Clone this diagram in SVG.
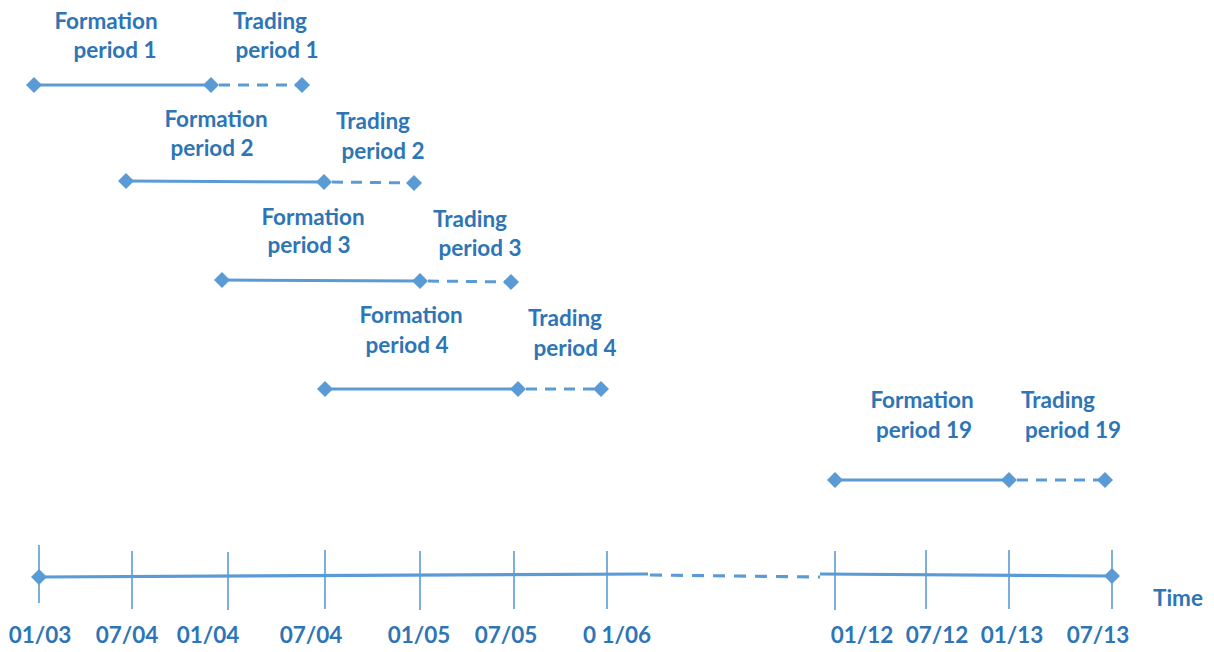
<svg xmlns="http://www.w3.org/2000/svg" width="1214" height="652" viewBox="0 0 1214 652">
  <defs>
    <style>
      .lbl { font-family: Lato, "Liberation Sans", sans-serif; font-weight: bold; font-size: 22.5px; fill: #2e75b6; text-anchor: middle; }
      .solid { stroke: #5b9bd5; stroke-width: 3; fill: none; }
      .dash { stroke: #5b9bd5; stroke-width: 3; fill: none; stroke-dasharray: 11 8; }
      .axis { stroke: #5b9bd5; stroke-width: 3.2; fill: none; }
      .axisdash { stroke: #5b9bd5; stroke-width: 3.2; fill: none; stroke-dasharray: 12 9; }
      .tick { stroke: #5b9bd5; stroke-width: 1.6; }
      .dot { fill: #5b9bd5; }
    </style>
    <path id="dm" d="M0,-8 L8,0 L0,8 L-8,0 Z"/>
  </defs>
  <rect width="1214" height="652" fill="#ffffff"/>

  <!-- period connectors -->
  <g id="connectors">
    <path class="solid" d="M34,85 L211,85"/>
    <path class="dash" d="M219,85 L302,85"/>
    <path class="solid" d="M126,181 L324,182"/>
    <path class="dash" d="M332,182 L414,183"/>
    <path class="solid" d="M222,280 L420,281"/>
    <path class="dash" d="M428,281 L511,282"/>
    <path class="solid" d="M325,389 L518,389"/>
    <path class="dash" d="M526,389 L601,389"/>
    <path class="solid" d="M835,480 L1009,480"/>
    <path class="dash" d="M1017,480 L1105,480"/>
  </g>

  <g id="period1">
    <use href="#dm" class="dot" x="34" y="85"/>
    <use href="#dm" class="dot" x="211" y="85"/>
    <use href="#dm" class="dot" x="302" y="85"/>
    <text class="lbl" x="106" y="29">Formation</text>
    <text class="lbl" x="115" y="58">period 1</text>
    <text class="lbl" x="270" y="29">Trading</text>
    <text class="lbl" x="277" y="58">period 1</text>
  </g>

  <g id="period2">
    <use href="#dm" class="dot" x="126" y="181"/>
    <use href="#dm" class="dot" x="324" y="182"/>
    <use href="#dm" class="dot" x="414" y="183"/>
    <text class="lbl" x="216" y="127">Formation</text>
    <text class="lbl" x="212" y="156">period 2</text>
    <text class="lbl" x="373" y="129">Trading</text>
    <text class="lbl" x="383" y="159">period 2</text>
  </g>

  <g id="period3">
    <use href="#dm" class="dot" x="222" y="280"/>
    <use href="#dm" class="dot" x="420" y="281"/>
    <use href="#dm" class="dot" x="511" y="282"/>
    <text class="lbl" x="313" y="225">Formation</text>
    <text class="lbl" x="309" y="253">period 3</text>
    <text class="lbl" x="470" y="227">Trading</text>
    <text class="lbl" x="480" y="256">period 3</text>
  </g>

  <g id="period4">
    <use href="#dm" class="dot" x="325" y="389"/>
    <use href="#dm" class="dot" x="518" y="389"/>
    <use href="#dm" class="dot" x="601" y="389"/>
    <text class="lbl" x="411" y="323">Formation</text>
    <text class="lbl" x="407" y="353">period 4</text>
    <text class="lbl" x="565" y="326">Trading</text>
    <text class="lbl" x="575" y="356">period 4</text>
  </g>

  <g id="period19">
    <use href="#dm" class="dot" x="835" y="480"/>
    <use href="#dm" class="dot" x="1009" y="480"/>
    <use href="#dm" class="dot" x="1105" y="480"/>
    <text class="lbl" x="922" y="408">Formation</text>
    <text class="lbl" x="924" y="438">period 19</text>
    <text class="lbl" x="1058" y="408">Trading</text>
    <text class="lbl" x="1073" y="438">period 19</text>
  </g>

  <!-- time axis -->
  <g id="axis">
    <path class="axis" d="M39,577 L648,574"/>
    <path class="axisdash" d="M650,575 L820,577"/>
    <path class="axis" d="M820,574 L1112,576"/>
    <line class="tick" x1="39" y1="545" x2="39" y2="603"/>
    <line class="tick" x1="132" y1="551" x2="132" y2="609"/>
    <line class="tick" x1="228" y1="552" x2="228" y2="610"/>
    <line class="tick" x1="325" y1="550" x2="325" y2="609"/>
    <line class="tick" x1="420" y1="551" x2="420" y2="610"/>
    <line class="tick" x1="514" y1="551" x2="514" y2="609"/>
    <line class="tick" x1="607" y1="551" x2="607" y2="609"/>
    <line class="tick" x1="835" y1="551" x2="835" y2="610"/>
    <line class="tick" x1="926" y1="550" x2="926" y2="609"/>
    <line class="tick" x1="1009" y1="550" x2="1009" y2="609"/>
    <line class="tick" x1="1112" y1="550" x2="1112" y2="609"/>
    <use href="#dm" class="dot" x="39" y="577"/>
    <use href="#dm" class="dot" x="1112" y="576"/>
  </g>

  <g id="axis-labels">
    <text class="lbl" x="40" y="643">01/03</text>
    <text class="lbl" x="127" y="643">07/04</text>
    <text class="lbl" x="208" y="643">01/04</text>
    <text class="lbl" x="311" y="643">07/04</text>
    <text class="lbl" x="419" y="643">01/05</text>
    <text class="lbl" x="506" y="643">07/05</text>
    <text class="lbl" x="617" y="643">0 1/06</text>
    <text class="lbl" x="862" y="643">01/12</text>
    <text class="lbl" x="937" y="643">07/12</text>
    <text class="lbl" x="1012" y="643">01/13</text>
    <text class="lbl" x="1098" y="643">07/13</text>
    <text class="lbl" x="1178" y="606">Time</text>
  </g>
</svg>
